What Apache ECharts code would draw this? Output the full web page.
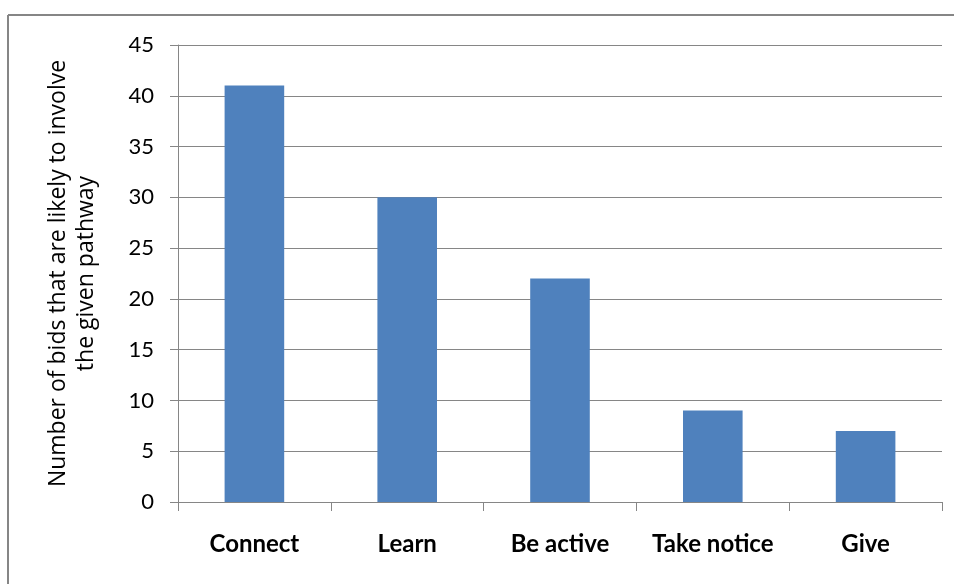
<!DOCTYPE html>
<html>
<head>
<meta charset="utf-8">
<script src="https://cdn.jsdelivr.net/npm/echarts@6/dist/echarts.min.js"></script>
<style>
  html, body { margin: 0; padding: 0; background: #ffffff; }
  #chart { width: 954px; height: 584px; }
</style>
</head>
<body>
<div id="chart"></div>
<script>
// Five Ways to Wellbeing pathways and how many bids involve each
const categories = ['Connect', 'Learn', 'Be active', 'Take notice', 'Give'];
const bidCounts = [41, 30, 22, 9, 7];
const yTicks = { min: 0, max: 45, interval: 5 };
const yAxisTitle = 'Number of bids that are likely to involve\nthe given pathway';

const axisGray = '#868686';
const fontFamily = 'Lato, "Open Sans", sans-serif';

const chart = echarts.init(document.getElementById('chart'), null, { renderer: 'canvas' });

chart.setOption({
  backgroundColor: '#ffffff',
  animation: false,
  graphic: [
    // frame around the chart area: top and left edges
    { type: 'line', shape: { x1: 8, y1: 15, x2: 954, y2: 15 }, style: { stroke: axisGray, lineWidth: 2 } },
    { type: 'line', shape: { x1: 8, y1: 15, x2: 8, y2: 584 }, style: { stroke: axisGray, lineWidth: 2 } }
  ],
  grid: { left: 178, right: 12, top: 45, bottom: 82 },
  xAxis: {
    type: 'category',
    data: categories,
    boundaryGap: true,
    axisLine: { lineStyle: { color: axisGray, width: 1 } },
    axisTick: { show: true, length: 9, lineStyle: { color: axisGray } },
    axisLabel: {
      interval: 0,
      margin: 30,
      color: '#000000',
      fontFamily: fontFamily,
      fontWeight: 'bold',
      fontSize: 24
    }
  },
  yAxis: {
    type: 'value',
    min: yTicks.min,
    max: yTicks.max,
    interval: yTicks.interval,
    name: yAxisTitle,
    nameLocation: 'middle',
    nameRotate: 90,
    nameGap: 78,
    nameTextStyle: {
      color: '#000000',
      fontFamily: '"Open Sans", Lato, sans-serif',
      fontSize: 23,
      lineHeight: 28,
      align: 'center'
    },
    axisLine: { show: true, lineStyle: { color: axisGray, width: 1 } },
    axisTick: { show: true, length: 8, lineStyle: { color: axisGray } },
    axisLabel: {
      margin: 24,
      color: '#000000',
      fontFamily: fontFamily,
      fontSize: 22
    },
    splitLine: { show: true, lineStyle: { color: axisGray, width: 1 } }
  },
  series: [{
    type: 'bar',
    data: bidCounts,
    barWidth: '39%',
    itemStyle: { color: '#4F81BD' }
  }]
});
</script>
</body>
</html>
